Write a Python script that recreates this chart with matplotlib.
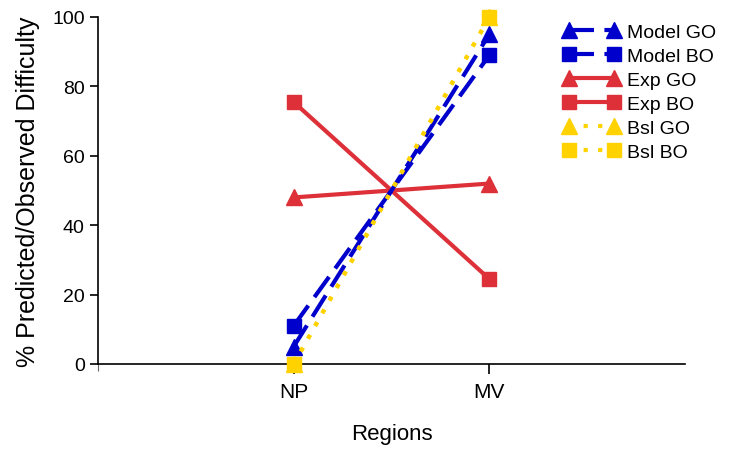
import numpy as np
import matplotlib.pyplot as plt

plt.rcParams['font.family'] = ['Liberation Sans', 'DejaVu Sans']

regions = ['NP', 'MV']
model_go = [5, 95]
model_bo = [11, 89]
exp_go = [48, 52]
exp_bo = [75.5, 24.5]
bsl_go = [0, 100]
bsl_bo = [0, 100]

blue = '#0000CC'
red = '#DD3038'
gold = '#FFD200'

x = np.arange(1, len(regions) + 1)

fig = plt.figure(figsize=(7.31, 4.52), dpi=100)
ax = fig.add_axes([98 / 731, 87 / 452, 587 / 731, 347 / 452])

ax.plot(x, model_go, color=blue, lw=3, ls=(0, (6, 2.5)), marker='^', ms=11, label='Model GO', zorder=4)
ax.plot(x, model_bo, color=blue, lw=3, ls=(0, (6, 2.5)), marker='s', ms=10, label='Model BO', zorder=4)
ax.plot(x, exp_go, color=red, lw=3, marker='^', ms=11, label='Exp GO', zorder=3)
ax.plot(x, exp_bo, color=red, lw=3, marker='s', ms=10, label='Exp BO', zorder=3)
ax.plot(x, bsl_go, color=gold, lw=3, ls=(0, (1, 2.5)), marker='^', ms=11, label='Bsl GO', zorder=5)
ax.plot(x, bsl_bo, color=gold, lw=3, ls=(0, (1, 2.5)), marker='s', ms=10, label='Bsl BO', zorder=5)

ax.set_xlim(0, 3)
ax.set_ylim(0, 100)
ax.set_xticks(x)
ax.set_xticklabels(regions)
ax.set_xticks([0], minor=True)
ax.set_yticks(np.arange(0, 101, 20))
ax.tick_params(axis='y', which='major', labelsize=14, direction='out', length=6, width=1.2)
ax.tick_params(axis='x', which='major', labelsize=15, direction='out', length=7, width=1.2, pad=6)
ax.tick_params(axis='x', which='minor', length=5, width=0.8, color='#666666')
for s in ['top', 'right']:
    ax.spines[s].set_visible(False)
for s in ['left', 'bottom']:
    ax.spines[s].set_linewidth(1.2)
    ax.spines[s].set_clip_on(False)
for line in ax.lines:
    line.set_clip_on(False)

ax.set_xlabel('Regions', fontsize=16, labelpad=16)
ax.set_ylabel('% Predicted/Observed Difficulty', fontsize=18, labelpad=9)

ax.legend(loc='upper left', bbox_to_anchor=(563 / 731, 1 - 24 / 452), bbox_transform=fig.transFigure,
          frameon=False, fontsize=14, numpoints=2, handlelength=2.9, handletextpad=0.4,
          borderpad=0, borderaxespad=0, labelspacing=0.33)

fig.savefig('out.png', dpi=100)
